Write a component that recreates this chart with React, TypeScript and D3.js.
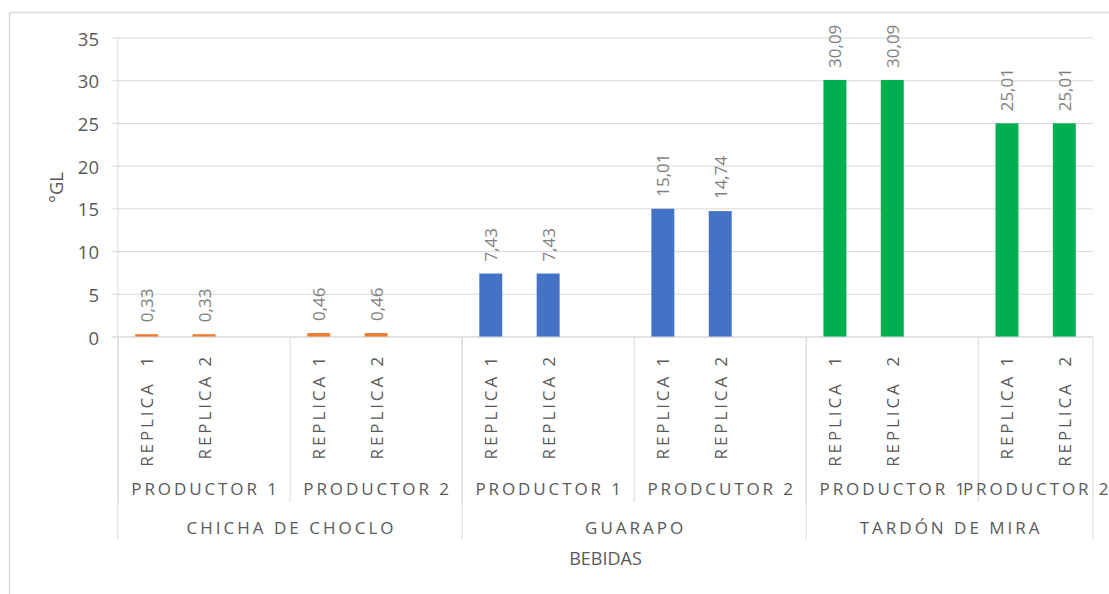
import React from "react";
import * as d3 from "d3";

const beverages = ["CHICHA DE CHOCLO", "GUARAPO", "TARDÓN DE MIRA"];
const beverageSpans = [[0, 5], [6, 11], [12, 16]];
const producers = ["PRODUCTOR 1", "PRODUCTOR 2", "PRODUCTOR 1", "PRODCUTOR 2", "PRODUCTOR 1", "PRODUCTOR 2"];
const producerSpans = [[0, 2], [3, 5], [6, 8], [9, 11], [12, 14], [15, 16]];
const replicaLabels = [
  "REPLICA  1", "REPLICA 2", "",
  "REPLICA 1", "REPLICA 2", "",
  "REPLICA 1", "REPLICA 2", "",
  "REPLICA 1", "REPLICA 2", "",
  "REPLICA  1", "REPLICA  2", "",
  "REPLICA 1", "REPLICA  2",
];
const values: (number | null)[] = [
  0.33, 0.33, null,
  0.46, 0.46, null,
  7.43, 7.43, null,
  15.01, 14.74, null,
  30.09, 30.09, null,
  25.01, 25.01,
];
const valueLabels = [
  "0,33", "0,33", "",
  "0,46", "0,46", "",
  "7,43", "7,43", "",
  "15,01", "14,74", "",
  "30,09", "30,09", "",
  "25,01", "25,01",
];
const slotBeverage = [0, 0, 0, 0, 0, 0, 1, 1, 1, 1, 1, 1, 2, 2, 2, 2, 2];
const beverageColors = ["#ED7D31", "#4472C4", "#00B050"];
const yTicks = [0, 5, 10, 15, 20, 25, 30, 35];
const yTitle = "°GL";
const xTitle = "BEBIDAS";

const W = 1109;
const H = 594;
const left = 118;
const right = 1093;
const top = 38;
const bottom = 337;
const font = "'Open Sans', 'DejaVu Sans', sans-serif";
const axisColor = "#595959";
const gridColor = "#d9d9d9";

export default function App() {
  const slots = d3.range(values.length);
  const x = d3.scaleBand<number>().domain(slots).range([left, right]).padding(0);
  const y = d3.scaleLinear().domain([0, 35]).range([bottom, top]);
  const bw = x.bandwidth();
  const barW = bw * 0.4;
  const edge = (i: number) => (i < values.length ? (x(i) as number) : right);

  const prodLines = producerSpans.map((s) => edge(s[0]));
  const bevLines = [...beverageSpans.map((s) => edge(s[0])), right];

  return (
    <svg
      width={W}
      height={H}
      style={{ position: "absolute", left: 0, top: 0, background: "#fff" }}
      fontFamily={font}
    >
      <rect x={0} y={0} width={W} height={H} fill="#fff" />
      {/* outer frame */}
      <line x1={9.5} y1={12.5} x2={W} y2={12.5} stroke={gridColor} strokeWidth={1.5} />
      <line x1={9.5} y1={12.5} x2={9.5} y2={H} stroke={gridColor} strokeWidth={1.5} />

      {/* gridlines + ticks */}
      {yTicks.map((t) => (
        <g key={t}>
          <line x1={112} x2={right} y1={y(t)} y2={y(t)} stroke={gridColor} strokeWidth={1} />
          <text
            x={99}
            y={y(t)}
            textAnchor="end"
            dominantBaseline="central"
            fontSize={18.5}
            fill={axisColor}
          >
            {t}
          </text>
        </g>
      ))}
      <line x1={left} x2={left} y1={top} y2={bottom} stroke={gridColor} strokeWidth={1} />

      {/* y title */}
      <text
        transform={`translate(55,${(top + bottom) / 2}) rotate(-90)`}
        textAnchor="middle"
        dominantBaseline="central"
        fontSize={18.5}
        fill={axisColor}
      >
        {yTitle}
      </text>

      {/* bars */}
      {slots.map((i) =>
        values[i] == null ? null : (
          <rect
            key={i}
            x={(x(i) as number) + (bw - barW) / 2}
            y={y(values[i] as number)}
            width={barW}
            height={bottom - y(values[i] as number)}
            fill={beverageColors[slotBeverage[i]]}
          />
        )
      )}

      {/* data labels */}
      {slots.map((i) =>
        values[i] == null ? null : (
          <text
            key={i}
            transform={`translate(${(x(i) as number) + bw / 2},${y(values[i] as number) - 12}) rotate(-90)`}
            textAnchor="start"
            dominantBaseline="central"
            fontSize={17}
            fill="#7f7f7f"
          >
            {valueLabels[i]}
          </text>
        )
      )}

      {/* category axis lines */}
      <line x1={112} x2={right} y1={bottom} y2={bottom} stroke={gridColor} strokeWidth={1} />
      {prodLines.map((px, k) => (
        <line key={"p" + k} x1={px} x2={px} y1={bottom} y2={502} stroke={gridColor} strokeWidth={1} />
      ))}
      {bevLines.map((px, k) => (
        <line key={"b" + k} x1={px} x2={px} y1={bottom} y2={540} stroke={gridColor} strokeWidth={1} />
      ))}

      {/* replica labels */}
      {slots.map((i) =>
        replicaLabels[i] ? (
          <text
            key={i}
            transform={`translate(${(x(i) as number) + bw / 2},354) rotate(-90)`}
            textAnchor="end"
            dominantBaseline="central"
            fontSize={17}
            letterSpacing={2.9}
            fill={axisColor}
            style={{ whiteSpace: "pre" }}
          >
            {replicaLabels[i]}
          </text>
        ) : null
      )}

      {/* producer labels */}
      {producers.map((p, k) => {
        const a = edge(producerSpans[k][0]);
        const b = edge(producerSpans[k][1] + 1);
        return (
          <text
            key={k}
            x={(a + b) / 2 + 1.5}
            y={495}
            textAnchor="middle"
            fontSize={17}
            letterSpacing={2.9}
            fill={axisColor}
          >
            {p}
          </text>
        );
      })}

      {/* beverage labels */}
      {beverages.map((bv, k) => {
        const a = edge(beverageSpans[k][0]);
        const b = edge(beverageSpans[k][1] + 1);
        return (
          <text
            key={k}
            x={(a + b) / 2 + 1.5}
            y={534}
            textAnchor="middle"
            fontSize={17}
            letterSpacing={3}
            fill={axisColor}
          >
            {bv}
          </text>
        );
      })}

      <text x={(left + right) / 2} y={565} textAnchor="middle" fontSize={18} fill={axisColor}>
        {xTitle}
      </text>
    </svg>
  );
}
